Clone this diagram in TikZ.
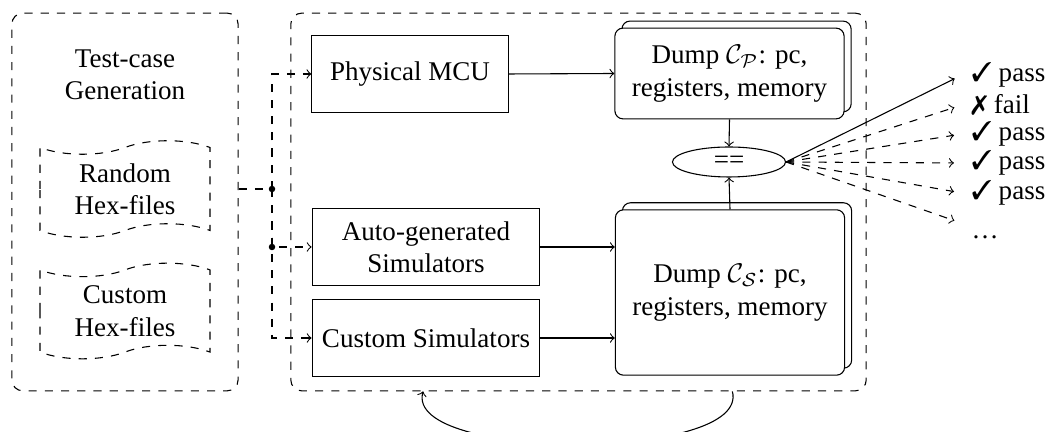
\documentclass[tikz,border=0pt]{standalone}
\usepackage{fontspec}
\setmainfont{Liberation Serif}
\usepackage{amsmath}
\usepackage{pifont}
\usetikzlibrary{arrows, shapes, shapes.symbols, shapes.geometric, shadows, calc}

\tikzset{
  grpbox/.style={draw, dashed, rounded corners, minimum width=2.94cm, minimum height=4.91cm},
  hexfile/.style={draw, dashed, tape, align=center, minimum width=2.21cm, minimum height=1.14cm},
  simbox/.style={draw, align=center, minimum height=0.99cm},
  dumpbox/.style={draw, fill=white, rounded corners=3pt, align=center, minimum width=2.98cm,
    copy shadow={shadow xshift=2.6pt, shadow yshift=2.6pt}},
  res/.style={anchor=west},
}

\begin{document}
\begin{tikzpicture}[x=0.013cm, y=-0.013cm]
      \useasboundingbox (0,0) rectangle (1049,432);

      % test-case generation
      \node[grpbox] (gen) at (125,202) {};
      \node[align=center] (gentitle) at (125,75) {Test-case\\Generation};
      \node[hexfile] (rnd) at (125,189) {Random\\Hex-files};
      \node[hexfile] (cst) at (125,311) {Custom\\Hex-files};

      % execution
      \node[grpbox, minimum width=7.48cm] (exec) at (578.5,202) {};
      \node[simbox, minimum width=2.55cm] (mcu) at (410,74) {Physical MCU};
      \node[simbox, minimum width=2.96cm] (auto) at (426,247) {Auto-generated\\Simulators};
      \node[simbox, minimum width=2.96cm] (csim) at (426,338) {Custom Simulators};

      \node[dumpbox, minimum height=1.18cm] (dumpP) at (729.5,73.5) {Dump $\mathcal{C}_{\mathcal{P}}$: pc,\\registers, memory};
      \node[dumpbox, minimum height=2.15cm] (dumpS) at (730,292.5) {Dump $\mathcal{C}_{\mathcal{S}}$: pc,\\registers, memory};
      \node[draw, ellipse, minimum width=1.47cm, minimum height=0.39cm, inner sep=0pt] (eq) at (729,162) {==};

      % inputs
      \coordinate (split) at (272,189);
      \draw[dashed] (gen.east |- rnd.east) -- (split);
      \draw[dashed,->] (split) |- (mcu.west);
      \draw[dashed,->] (split) |- (auto.west);
      \draw[dashed,->] (split) |- (csim.west);
      \fill (split) circle (1.2pt);
      \fill (split |- auto.west) circle (1.2pt);

      \draw[->] (mcu.east) -- (dumpP.west);
      \draw[->] (auto.east) -- (auto.east -| dumpS.west);
      \draw[->] (csim.east) -- (csim.east -| dumpS.west);
      \draw[->] (dumpP.south) -- (eq.north);
      \draw[->] (dumpS.north) -- (eq.south);

      % results
      \node[res] (r1) at (962,75) {\ding{51} pass};
      \node[res] (r2) at (962,105) {\ding{55} fail};
      \node[res] (r3) at (962,134) {\ding{51} pass};
      \node[res] (r4) at (962,163) {\ding{51} pass};
      \node[res] (r5) at (962,193) {\ding{51} pass};
      \node[res, anchor=north west] (r6) at (962,226) {\dots};

      \draw[->, shorten >=3pt] (eq.east) -- (r1.west);
      \draw[->, dashed, shorten >=3pt] (eq.east) -- (r2.west);
      \draw[->, dashed, shorten >=3pt] (eq.east) -- (r3.west);
      \draw[->, dashed, shorten >=3pt] (eq.east) -- (r4.west);
      \draw[->, dashed, shorten >=3pt] (eq.east) -- (r5.west);
      \draw[->, dashed, shorten >=3pt] (eq.east) -- ([yshift=1pt]r6.north west);

      % repeat
      \draw[->] ([xshift=2cm]exec.south) to[out=-75, in=-105, looseness=0.6] ([xshift=-2.02cm]exec.south);

    \end{tikzpicture}
\end{document}
